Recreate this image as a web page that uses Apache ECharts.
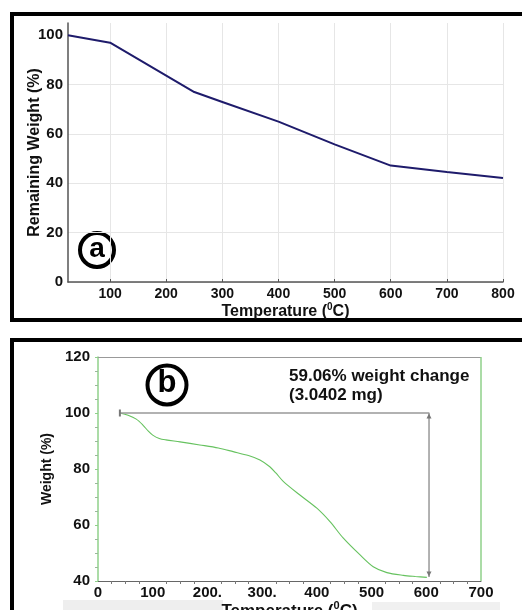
<!DOCTYPE html>
<html>
<head>
<meta charset="utf-8">
<script src="https://cdn.jsdelivr.net/npm/echarts@6/dist/echarts.min.js"></script>
<style>
  html, body { margin: 0; padding: 0; background: #fff; }
  #chart { width: 522px; height: 610px; }
</style>
</head>
<body>
<div id="chart"></div>
<script>
// (a) remaining weight curve
const tempA = [25, 100, 250, 300, 400, 500, 600, 700, 800];
const weightA = [100, 97, 77, 73, 65, 55.8, 47.2, 44.6, 42.2];
const ticksA = [100, 200, 300, 400, 500, 600, 700, 800];
const yTicksA = [0, 20, 40, 60, 80, 100];

// (b) TGA curve
const tempB = [40, 55, 70, 82, 92, 100, 112, 124, 150, 186, 220, 247, 275, 296, 314, 325, 339, 369, 400, 424, 448, 479, 503, 528, 558, 580, 601];
const weightB = [100, 99.2, 97.8, 95.7, 93.5, 92.1, 90.9, 90.4, 89.7, 88.6, 87.5, 86.2, 84.8, 83.2, 80.8, 78.6, 75.5, 70.7, 66, 61.2, 55.4, 49.3, 45.1, 43, 42, 41.6, 41.3];
const xLabelsB = { 0: "0", 100: "100", 200: "200.", 300: "300.", 400: "400", 500: "500", 600: "600", 700: "700" };
// weight-change bracket
const bracketX = [40, 605, 605];
const bracketY = [100, 100, 41.4];

const chart = echarts.init(document.getElementById("chart"));
const font = "Liberation Sans, Arial, sans-serif";
const tempName = "Temperature ({sup|0}C)";
const supStyle = (size) => ({
  sup: { fontSize: size, fontWeight: "bold", color: "#111", fontFamily: font, padding: [0, 0, 9, 0] }
});

const option = {
  backgroundColor: "#fff",
  animation: false,
  grid: [
    { left: 68, right: 19, top: 23, bottom: 328, outerBoundsMode: "none" },
    { left: 98, right: 41, top: 357, bottom: 29, outerBoundsMode: "none" }
  ],
  xAxis: [
    {
      gridIndex: 0, type: "value", min: 25, max: 800,
      name: tempName, nameLocation: "middle", nameGap: 20,
      nameTextStyle: { fontSize: 16, fontWeight: "bold", color: "#111", fontFamily: font, rich: supStyle(10) },
      axisLine: { lineStyle: { color: "#555", width: 1.5 } },
      axisTick: { show: true, customValues: ticksA, length: 3, inside: true, lineStyle: { color: "#555" } },
      axisLabel: { customValues: ticksA, fontSize: 14, fontWeight: "bold", color: "#111", fontFamily: font, margin: 5 },
      splitLine: { show: true, lineStyle: { color: "#e6e6e6" } }
    },
    {
      gridIndex: 1, type: "value", min: 0, max: 700, interval: 100,
      name: tempName, nameLocation: "middle", nameGap: 16,
      nameTextStyle: { fontSize: 17, fontWeight: "bold", color: "#111", fontFamily: font, rich: supStyle(11) },
      axisLine: { lineStyle: { color: "#666", width: 1 } },
      axisTick: { show: false },
      minorTick: { show: true, splitNumber: 4, length: 3, lineStyle: { color: "#777" } },
      axisLabel: {
        fontSize: 15, fontWeight: "bold", color: "#111", fontFamily: font, margin: 4,
        formatter: (v) => xLabelsB[v] || ""
      },
      splitLine: { show: false }
    }
  ],
  yAxis: [
    {
      gridIndex: 0, type: "value", min: 0, max: 105,
      name: "Remaining Weight (%)", nameLocation: "middle", nameGap: 25, nameMoveOverlap: false,
      nameTextStyle: { fontSize: 16, fontWeight: "bold", color: "#111", fontFamily: font },
      axisLine: { show: true, lineStyle: { color: "#555", width: 1.5 } },
      axisTick: { show: false, customValues: yTicksA },
      axisLabel: { customValues: yTicksA, fontSize: 15, fontWeight: "bold", color: "#111", fontFamily: font, margin: 5 },
      splitLine: { show: true, showMaxLine: false, lineStyle: { color: "#e6e6e6" } }
    },
    {
      gridIndex: 1, type: "value", min: 40, max: 120, interval: 20,
      name: "Weight (%)", nameLocation: "middle", nameGap: 43,
      nameTextStyle: { fontSize: 14, fontWeight: "bold", color: "#111", fontFamily: font },
      axisLine: { show: true, lineStyle: { color: "#8fd08a", width: 1.5 } },
      axisTick: { show: true, length: 3, lineStyle: { color: "#8fd08a" } },
      minorTick: { show: true, splitNumber: 4, length: 3, lineStyle: { color: "#9ab89a" } },
      axisLabel: { fontSize: 15, fontWeight: "bold", color: "#111", fontFamily: font, margin: 8 },
      splitLine: { show: false }
    }
  ],
  series: [
    {
      type: "line", xAxisIndex: 0, yAxisIndex: 0, symbol: "none",
      data: tempA.map((t, i) => [t, weightA[i]]),
      lineStyle: { color: "#1e1b6b", width: 2 }
    },
    {
      type: "line", xAxisIndex: 1, yAxisIndex: 1, symbol: "none", smooth: 0.3,
      data: tempB.map((t, i) => [t, weightB[i]]),
      lineStyle: { color: "#66c25f", width: 1.1 },
      // plot frame: top edge grey, right edge green
      markLine: {
        silent: true, symbol: "none", label: { show: false },
        data: [
          [{ coord: [0, 120], lineStyle: { color: "#999", width: 1, type: "solid" } }, { coord: [700, 120] }],
          [{ coord: [700, 40], lineStyle: { color: "#8fd08a", width: 1.5, type: "solid" } }, { coord: [700, 120] }]
        ]
      }
    },
    {
      type: "line", xAxisIndex: 1, yAxisIndex: 1,
      symbol: "none", showSymbol: false,
      data: bracketX.map((x, i) => [x, bracketY[i]]),
      lineStyle: { color: "#999", width: 1.5 },
      markPoint: {
        silent: true, label: { show: false },
        data: [
          { coord: [bracketX[0], bracketY[0]], symbol: "rect", symbolSize: [2, 7], itemStyle: { color: "#777" } },
          { coord: [bracketX[1], bracketY[1]], symbol: "triangle", symbolSize: [5, 5], symbolOffset: [0, 3], itemStyle: { color: "#777" } },
          { coord: [bracketX[2], bracketY[2]], symbol: "triangle", symbolSize: [5, 5], symbolRotate: 180, symbolOffset: [0, -3], itemStyle: { color: "#777" } }
        ]
      }
    }
  ],
  graphic: [
    // faint scan strips under panel (b)
    { type: "rect", shape: { x: 63, y: 600, width: 160, height: 10 }, style: { fill: "#eeeeee" }, silent: true, z: -1 },
    { type: "rect", shape: { x: 372, y: 602, width: 128, height: 8 }, style: { fill: "#f0f0f0" }, silent: true, z: -1 },
    // panel borders
    { type: "rect", shape: { x: 12, y: 14, width: 520, height: 306 }, style: { fill: null, stroke: "#000", lineWidth: 4 }, silent: true },
    { type: "rect", shape: { x: 12, y: 340, width: 520, height: 290 }, style: { fill: null, stroke: "#000", lineWidth: 4 }, silent: true },
    // circled letters
    { type: "circle", shape: { cx: 97, cy: 250, r: 17 }, style: { fill: "#fff", stroke: "#000", lineWidth: 4 }, silent: true },
    { type: "text", x: 97, y: 249, style: { text: "a", font: "bold 28px " + font, fill: "#000", align: "center", verticalAlign: "middle" }, silent: true },
    { type: "circle", shape: { cx: 167, cy: 385, r: 19.5 }, style: { fill: "#fff", stroke: "#000", lineWidth: 4 }, silent: true },
    { type: "text", x: 167, y: 383, style: { text: "b", font: "bold 31px " + font, fill: "#000", align: "center", verticalAlign: "middle" }, silent: true },
    // annotation
    { type: "text", left: 289, top: 367, style: { text: "59.06% weight change\n(3.0402 mg)", font: "bold 17px " + font, lineHeight: 19, fill: "#111" }, silent: true }
  ]
};
chart.setOption(option);
</script>
</body>
</html>
